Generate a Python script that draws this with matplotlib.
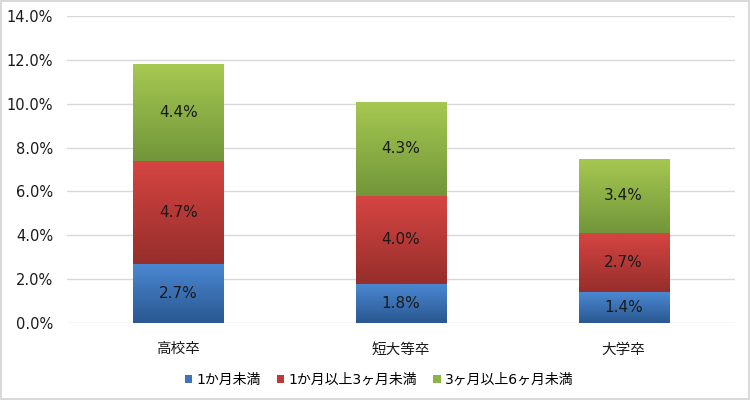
import numpy as np
import matplotlib
matplotlib.use("Agg")
import matplotlib.pyplot as plt
from matplotlib.colors import LinearSegmentedColormap
from matplotlib.patches import Patch

plt.rcParams['font.family'] = ['DejaVu Sans', 'Noto Sans CJK JP']

categories = ["高校卒", "短大等卒", "大学卒"]
series_names = ["1か月未満", "1か月以上3ヶ月未満", "3ヶ月以上6ヶ月未満"]
under_1m = [2.7, 1.8, 1.4]
m1_to_3 = [4.7, 4.0, 2.7]
m3_to_6 = [4.4, 4.3, 3.4]
yticks = [0, 2, 4, 6, 8, 10, 12, 14]

# (top colour, bottom colour, legend colour)
grad_colors = [
    ("#4B88D2", "#2A5892", "#3D74BC"),
    ("#D64542", "#962E2B", "#BE3A37"),
    ("#A6C852", "#72963A", "#8DB545"),
]

fig = plt.figure(figsize=(7.5, 4), dpi=100)
fig.patch.set_edgecolor("#d9d9d9")
fig.patch.set_linewidth(1.5)
ax = fig.add_axes([67 / 750, 77 / 400, 668 / 750, 307 / 400])

x = np.arange(len(categories))
bottom = np.zeros(len(categories))
grad = np.linspace(0, 1, 64).reshape(-1, 1)
for vals, (ctop, cbot, _) in zip([under_1m, m1_to_3, m3_to_6], grad_colors):
    bars = ax.bar(x, vals, 0.405, bottom=bottom, color="none", zorder=2)
    cmap = LinearSegmentedColormap.from_list("g", [cbot, ctop])
    for rect, v in zip(bars, vals):
        x0, y0 = rect.get_x(), rect.get_y()
        w, h = rect.get_width(), rect.get_height()
        im = ax.imshow(grad, extent=[x0, x0 + w, y0, y0 + h], origin="lower",
                       aspect="auto", cmap=cmap, zorder=2, interpolation="bilinear")
        im.set_clip_path(rect)
        ax.text(x0 + w / 2, y0 + h / 2, f"{v:.1f}%", ha="center", va="center",
                fontsize=11, color="#1a1a1a", zorder=3)
    bottom += np.array(vals)

ax.set_xlim(-0.5, len(categories) - 0.5)
ax.set_ylim(0, 14)
ax.set_yticks(yticks)
ax.set_yticklabels([f"{t:.1f}%" for t in yticks])
ax.set_xticks(x)
ax.set_xticklabels(categories, family=['Noto Sans CJK JP'], fontsize=10.5)
ax.tick_params(length=0, labelsize=10.5, colors="#1a1a1a")
ax.tick_params(axis="y", pad=10)
ax.tick_params(axis="x", pad=14)
ax.grid(axis="y", color="#d9d9d9", linewidth=1, zorder=0)
for s in ax.spines.values():
    s.set_visible(False)

handles = [Patch(facecolor=c[2], edgecolor="none") for c in grad_colors]
fig.legend(handles, series_names, loc="center", bbox_to_anchor=(379 / 750, 1 - 380 / 400),
           ncol=3, frameon=False, prop={"family": ['DejaVu Sans', 'Noto Sans CJK JP'], "size": 10},
           handlelength=0.55, handleheight=0.55, handletextpad=0.3, columnspacing=1.15)

fig.savefig("out.png", dpi=100, edgecolor=fig.get_edgecolor())
